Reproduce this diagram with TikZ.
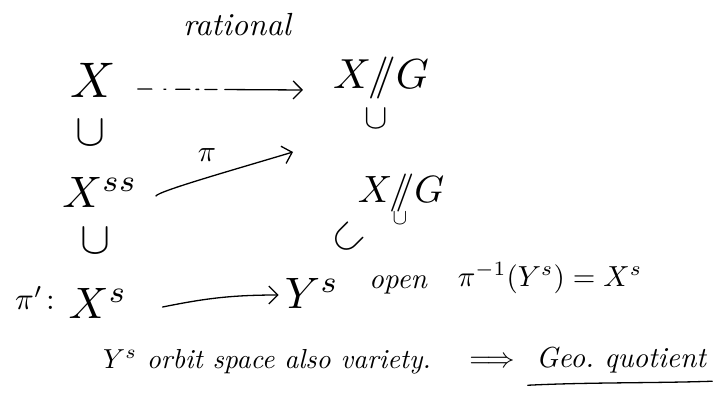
\documentclass[tikz,border=0pt]{standalone}
\usetikzlibrary{arrows.meta}
\begin{document}
\begin{tikzpicture}[x=1pt,y=-1pt,
  t/.style={inner sep=0pt, font=\fontsize{10}{12}\selectfont},
  ink/.style={line width=1.3pt, line cap=round},
  arr/.style={ink, -{Straight Barb[length=9pt,width=18pt,line width=1.3pt]}}
]
\useasboundingbox (0,0) rectangle (720,412);
% row 1
\node[t] (rat) at (237,25) {\scalebox{3.2}{\itshape rational}};
\node[t] (X1) at (93,80) {\scalebox{5}{$X$}};
\node[t] (XG1) at (381,78) {\scalebox{4.2}{$X/\!\!/G$}};
\node[t] (h1) at (376,119) {\scalebox{3.5}{$\cup$}};
\node[t] (U1) at (90,133) {\scalebox{4.5}{$\cup$}};
\draw[arr, dash pattern=on 14pt off 12pt on 2pt off 10pt on 14pt off 6pt on 3pt off 6pt on 12pt off 8pt on 80pt]
  ([shift={(22,9)}]X1.east) -- ([shift={(-30,12)}]XG1.west);
% row 2
\node[t] (Xss) at (100,192) {\scalebox{4.4}{$X^{ss}$}};
\node[t] (pi) at (207,155) {\scalebox{3}{$\pi$}};
\coordinate (piend) at (293,152);
\draw[arr] ([shift={(18,4)}]Xss.east) .. controls +(3,-5) and +(-60,18) .. (piend);
\node[t] (XG2) at (401,193) {\scalebox{3.8}{$X/\!\!/G$}};
\node[t] (h2) at (400,218) {\scalebox{2.2}{$\cup$}};
\node[t] (U2) at (95,241) {\scalebox{4.5}{$\cup$}};
\node[t, rotate=45] (h3) at (347,238) {\scalebox{4}{$\subset$}};
% row 3
\node[t] (pip) at (35,298) {\scalebox{3.1}{$\pi'\!:$}};
\node[t] (Xs) at (98,303) {\scalebox{4.4}{$X^s$}};
\node[t] (Ys) at (312,293) {\scalebox{4.4}{$Y^s$}};
\draw[arr] ([shift={(35,4)}]Xs.east) .. controls +(40,-8) and +(-50,0) .. ([shift={(-6,2)}]Ys.west);
\node[t] (open) at (398,285) {\scalebox{2.9}{\itshape open}};
\node[t] (pre) at (550,278) {\scalebox{2.9}{$\pi^{-1}(Y^s)=X^s$}};
% bottom line
\node[t, anchor=west] (orb) at (103,362) {\scalebox{2.75}{\itshape $Y^s$ orbit space also variety.}};
\node[t] (imp) at (492,362) {\scalebox{2.8}{$\Longrightarrow$}};
\node[t] (geo) at (621,360) {\scalebox{2.9}{\itshape Geo.\ quotient}};
\draw[ink] ([shift={(-8,12)}]geo.south west) .. controls +(60,-3) and +(-60,2) .. ([shift={(6,8)}]geo.south east);
\end{tikzpicture}
\end{document}
